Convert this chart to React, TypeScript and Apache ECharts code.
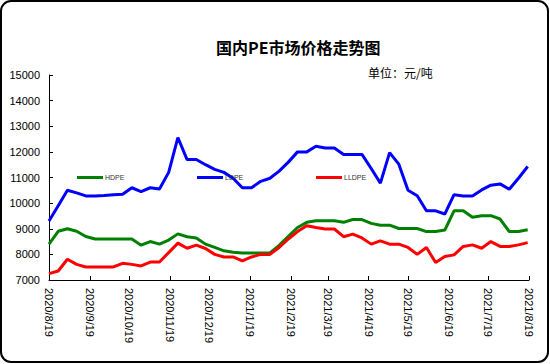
import React, { useEffect, useRef } from "react";
import * as echarts from "echarts";

const dates: string[] = [
  "2020-08-19", "2020-08-26", "2020-09-02", "2020-09-09", "2020-09-16", "2020-09-23", "2020-09-30",
  "2020-10-07", "2020-10-14", "2020-10-21", "2020-10-28", "2020-11-04", "2020-11-11", "2020-11-18",
  "2020-11-25", "2020-12-02", "2020-12-09", "2020-12-16", "2020-12-23", "2020-12-30", "2021-01-06",
  "2021-01-13", "2021-01-20", "2021-01-27", "2021-02-03", "2021-02-10", "2021-02-17", "2021-02-24",
  "2021-03-03", "2021-03-10", "2021-03-17", "2021-03-24", "2021-03-31", "2021-04-07", "2021-04-14",
  "2021-04-21", "2021-04-28", "2021-05-05", "2021-05-12", "2021-05-19", "2021-05-26", "2021-06-02",
  "2021-06-09", "2021-06-16", "2021-06-23", "2021-06-30", "2021-07-07", "2021-07-14", "2021-07-21",
  "2021-07-28", "2021-08-04", "2021-08-11", "2021-08-18",
];

const hdpe: number[] = [
  8400, 8900, 9000, 8900, 8700, 8600, 8600, 8600, 8600, 8600, 8360, 8500, 8400, 8560,
  8800, 8690, 8640, 8400, 8270, 8140, 8080, 8050, 8050, 8050, 8060, 8350, 8700, 9050,
  9250, 9310, 9310, 9310, 9250, 9360, 9360, 9210, 9140, 9140, 9010, 9010, 9010, 8890,
  8890, 8950, 9700, 9700, 9450, 9510, 9510, 9380, 8890, 8890, 8960,
];

const ldpe: number[] = [
  9300, 9900, 10500, 10400, 10280, 10280, 10300, 10330, 10350, 10600, 10450, 10600, 10550, 11200,
  12560, 11700, 11700, 11500, 11320, 11200, 10970, 10600, 10600, 10850, 10970, 11250, 11600, 12000,
  12000, 12220, 12150, 12150, 11900, 11900, 11900, 11350, 10780, 11970, 11520, 10500, 10290, 9700,
  9700, 9575, 10330, 10280, 10280, 10515, 10700, 10750, 10540, 10970, 11430,
];

const lldpe: number[] = [
  7250, 7350, 7810, 7610, 7510, 7510, 7510, 7510, 7650, 7610, 7550, 7700, 7700, 8070,
  8440, 8240, 8360, 8230, 8000, 7900, 7900, 7745, 7900, 8000, 8000, 8270, 8600, 8890,
  9120, 9050, 8990, 8990, 8690, 8790, 8640, 8400, 8530, 8400, 8400, 8270, 8000, 8270,
  7680, 7915, 7980, 8310, 8370, 8240, 8500, 8310, 8310, 8370, 8460,
];

const tickDates: string[] = [
  "2020-08-19", "2020-09-19", "2020-10-19", "2020-11-19", "2020-12-19", "2021-01-19", "2021-02-19",
  "2021-03-19", "2021-04-19", "2021-05-19", "2021-06-19", "2021-07-19", "2021-08-19",
];

const seriesNames = ["HDPE", "LDPE", "LLDPE"];
const seriesColors = ["#008000", "#0000ff", "#ff0000"];

const toTs = (s: string) => {
  const [y, m, d] = s.split("-").map(Number);
  return new Date(y, m - 1, d).getTime();
};

const fmt = (v: number) => {
  const d = new Date(v);
  return `${d.getFullYear()}/${d.getMonth() + 1}/${d.getDate()}`;
};

export default function App() {
  const ref = useRef<HTMLDivElement>(null);
  useEffect(() => {
    if (!ref.current) return;
    const chart = echarts.init(ref.current, null, { renderer: "svg" });
    const tickTs = tickDates.map(toTs);
    const values = [hdpe, ldpe, lldpe];
    const legendLefts = [77, 197, 316];
    chart.setOption({
      animation: false,
      backgroundColor: "#fff",
      title: [
        {
          text: "国内PE市场价格走势图",
          left: 216,
          top: 39,
          padding: 0,
          textStyle: { fontSize: 16, fontWeight: "bold", color: "#000", fontFamily: "Noto Sans CJK SC" },
        },
        {
          text: "单位：元/吨",
          left: 368,
          top: 66,
          padding: 0,
          textStyle: { fontSize: 12, fontWeight: "normal", color: "#000", fontFamily: "Noto Sans CJK SC" },
        },
      ],
      legend: seriesNames.map((n, i) => ({
        data: [n],
        left: legendLefts[i],
        top: 174,
        padding: 0,
        icon: "rect",
        itemWidth: 26,
        itemHeight: 3,
        itemGap: 0,
        textStyle: { fontSize: 7, color: "#333", padding: [0, 0, 0, -3] },
      })),
      grid: { left: 49, right: 21, top: 75, bottom: 84, containLabel: false },
      xAxis: {
        type: "value",
        min: toTs("2020-08-19"),
        max: toTs("2021-08-19"),
        axisLine: { lineStyle: { color: "#000", width: 1 } },
        axisTick: { show: true, inside: true, length: 4, customValues: tickTs, lineStyle: { color: "#000" } },
        axisLabel: {
          customValues: tickTs,
          rotate: -90,
          margin: 8,
          fontSize: 11,
          color: "#000",
          fontFamily: "Liberation Sans",
          hideOverlap: false,
          showMinLabel: true,
          showMaxLabel: true,
          formatter: (v: number) => fmt(v),
        },
        splitLine: { show: false },
      },
      yAxis: {
        type: "value",
        min: 7000,
        max: 15000,
        interval: 1000,
        axisLine: { show: true, lineStyle: { color: "#000", width: 1 } },
        axisTick: { show: true, inside: true, length: 4, lineStyle: { color: "#000" } },
        axisLabel: {
          fontSize: 11,
          color: "#000",
          margin: 9,
          fontFamily: "Liberation Sans",
          formatter: (v: number) => String(v),
        },
        splitLine: { show: false },
      },
      series: seriesNames.map((n, i) => ({
        name: n,
        type: "line",
        showSymbol: false,
        symbol: "none",
        color: seriesColors[i],
        lineStyle: { width: 3, color: seriesColors[i] },
        data: dates.map((d, j) => [toTs(d), values[i][j]]),
      })),
      graphic: [
        {
          type: "rect",
          shape: { x: 1, y: 1, width: 547, height: 361, r: 10 },
          style: { fill: "none", stroke: "#000", lineWidth: 2 },
          silent: true,
          z: 100,
        },
      ],
    });
    return () => chart.dispose();
  }, []);
  return (
    <div
      ref={ref}
      style={{ position: "absolute", left: 0, top: 0, width: 550, height: 364 }}
    />
  );
}
